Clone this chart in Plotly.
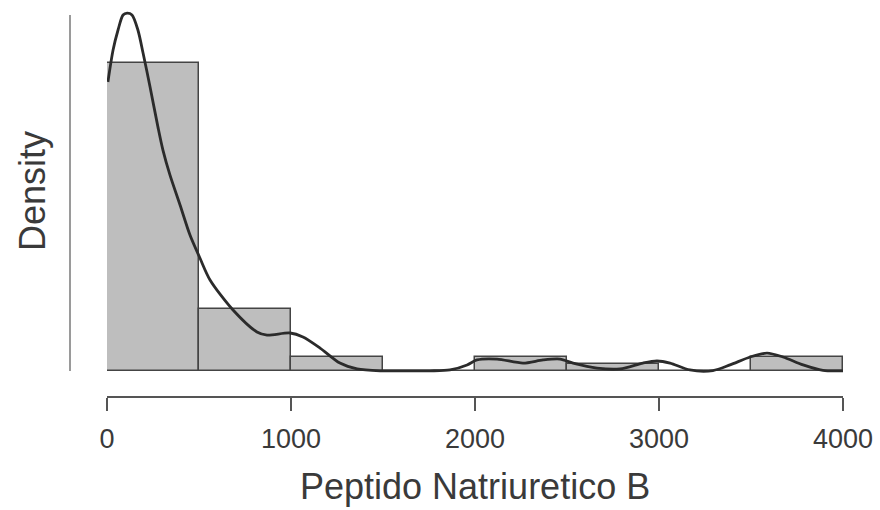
import plotly.graph_objects as go

# Histogram (bins of width 500)
bin_left = [0, 500, 1000, 1500, 2000, 2500, 3000, 3500]
bin_width = 500
counts = [45, 9, 2, 0, 2, 1, 0, 2]

# Density curve (x value, density)
curve_x = [5, 33, 60, 87, 109, 136, 168, 196, 234, 277, 304, 342, 397, 451, 505,
           560, 685, 815, 870, 995, 1065, 1158, 1266, 1359, 1484, 1592, 1755,
           1864, 1957, 2011, 2120, 2261, 2370, 2462, 2533, 2663, 2788, 2913,
           2989, 3060, 3168, 3293, 3386, 3495, 3587, 3674, 3783, 3891, 4000]
curve_y_e4 = [13.84, 15.37, 16.33, 17.05, 17.14, 17.05, 16.33, 15.23, 13.60, 11.68,
              10.58, 9.39, 7.95, 6.51, 5.41, 4.36, 2.92, 1.87, 1.72, 1.82, 1.63,
              1.10, 0.38, 0.10, 0.01, 0.01, 0.01, 0.05, 0.29, 0.53, 0.57, 0.38,
              0.53, 0.57, 0.38, 0.14, 0.10, 0.38, 0.48, 0.38, 0.05, 0.02, 0.29,
              0.67, 0.86, 0.67, 0.29, 0.03, 0.01]

x_ticks = [0, 1000, 2000, 3000, 4000]
x_title = "Peptido Natriuretico B"
y_title = "Density"

total = sum(counts)
dens = [c / (total * bin_width) for c in counts]
centers = [b + bin_width / 2 for b in bin_left]
curve_y = [v * 1e-4 for v in curve_y_e4]

W, H = 880, 510
L, R, T, B = 107, 37, 5, 114
s = 208814.0  # px per density unit
y_lo = -(396 - 371) / s
y_hi = (371 - T) / s

fig = go.Figure()
fig.add_trace(go.Bar(x=centers, y=dens, width=[bin_width] * len(counts),
                     marker=dict(color="#bebebe", line=dict(color="#444444", width=1.5)),
                     hoverinfo="skip"))
fig.add_trace(go.Scatter(x=curve_x, y=curve_y, mode="lines",
                         line=dict(color="#2b2b2b", width=2.8, shape="spline", smoothing=0.8),
                         hoverinfo="skip"))

fig.update_layout(
    width=W, height=H,
    margin=dict(l=L, r=R, t=T, b=B),
    paper_bgcolor="white", plot_bgcolor="white",
    showlegend=False, bargap=0,
    font=dict(family="Liberation Sans, Arial, sans-serif", color="#333333"),
    xaxis=dict(range=[0, 4000], tickvals=x_ticks, ticktext=[str(v) for v in x_ticks],
               showline=True, linecolor="#555555", linewidth=1.6,
               ticks="outside", ticklen=13, tickwidth=1.6, tickcolor="#555555",
               ticklabelstandoff=5,
               showgrid=False, zeroline=False, tickfont=dict(size=27, color="#3a3a3a")),
    yaxis=dict(range=[y_lo, y_hi], showticklabels=False, showgrid=False,
               zeroline=False, showline=False, ticks=""),
    shapes=[dict(type="line", xref="paper", yref="y",
                 x0=(70 - L) / (W - L - R), x1=(70 - L) / (W - L - R),
                 y0=0, y1=(371 - 15) / s,
                 line=dict(color="#9a9a9a", width=2))],
    annotations=[
        dict(text=x_title, xref="paper", yref="paper", x=0.5,
             y=-(486 - (H - B)) / (H - T - B), xanchor="center", yanchor="middle",
             showarrow=False, font=dict(size=36, color="#3a3a3a")),
        dict(text=y_title, xref="paper", yref="paper", x=-(L - 32) / (W - L - R),
             y=1 - (191 - T) / (H - T - B), xanchor="center", yanchor="middle",
             textangle=-90, showarrow=False, font=dict(size=36, color="#3a3a3a")),
    ],
)

fig.write_html("out.html")
